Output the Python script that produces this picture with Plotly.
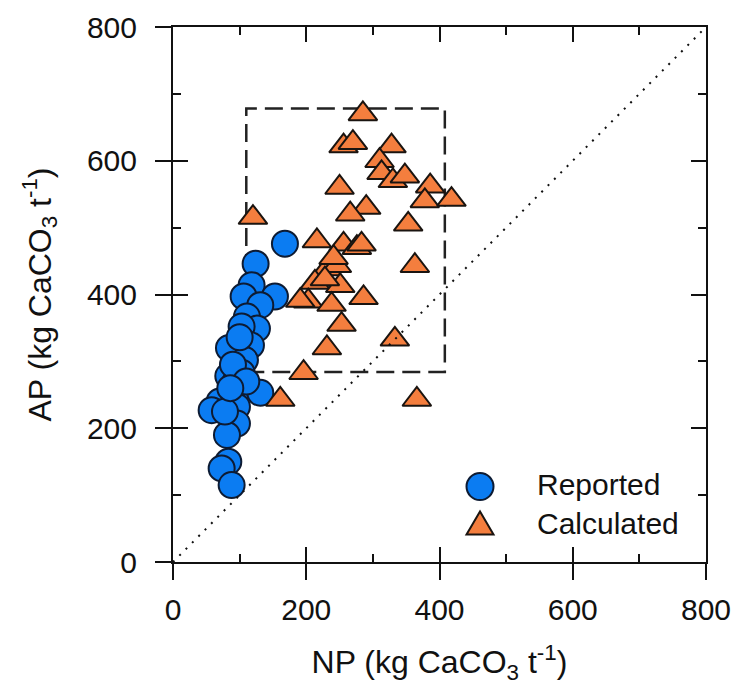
import plotly.graph_objects as go

# Reported NP / AP values (kg CaCO3 per tonne)
reported_np = [168, 124, 118, 106, 153, 131, 111, 126, 103, 84, 117, 108, 103, 83, 93,
               98, 131, 70, 58, 96, 96, 81, 83, 73, 88, 100, 90, 78, 110, 86]
reported_ap = [476, 446, 414, 397, 397, 384, 367, 349, 352, 320, 324, 302, 283, 278, 268,
               258, 253, 240, 227, 232, 207, 190, 150, 140, 115, 336, 295, 225, 270, 260]

# Calculated NP / AP values (kg CaCO3 per tonne)
calculated_np = [285, 256, 270, 328, 310, 313, 330, 348, 386, 378, 418, 250, 290, 266,
                 120, 353, 216, 256, 276, 283, 363, 231, 246, 213, 251, 228, 203, 238,
                 286, 253, 231, 333, 196, 161, 366, 191, 241]
calculated_ap = [670, 622, 627, 622, 600, 582, 570, 577, 562, 540, 542, 560, 530, 520,
                 515, 505, 480, 475, 470, 475, 443, 438, 443, 418, 413, 423, 390, 385,
                 395, 355, 320, 333, 283, 243, 243, 391, 455]

# 1:1 reference line and the highlighted region
one_to_one = [0, 800]
box_np = [110, 408]
box_ap = [284, 678]

axis_range = [0, 800]
tick_vals = [0, 200, 400, 600, 800]

series_names = ["Reported", "Calculated"]
series_fill = ["#0b7cf2", "#f47e3e"]
series_edge = ["#0d1b33", "#1a1410"]

FONT = "Liberation Sans, Arial, sans-serif"
INK = "#111111"

fig = go.Figure()

fig.add_trace(go.Scatter(
    x=one_to_one, y=one_to_one, mode="lines",
    line=dict(color=INK, width=2, dash="2px,7px"),
    showlegend=False, hoverinfo="skip", xaxis="x2", yaxis="y2",
))

fig.add_trace(go.Scatter(
    x=reported_np, y=reported_ap, mode="markers", name=series_names[0],
    showlegend=False,
    marker=dict(symbol="circle", size=26, color=series_fill[0],
                line=dict(color=series_edge[0], width=2)),
))

fig.add_trace(go.Scatter(
    x=calculated_np, y=calculated_ap, mode="markers", name=series_names[1],
    showlegend=False,
    marker=dict(symbol="triangle-up", size=25, color=series_fill[1],
                line=dict(color=series_edge[1], width=2)),
))

fig.add_shape(
    type="rect", xref="x", yref="y",
    x0=box_np[0], x1=box_np[1], y0=box_ap[0], y1=box_ap[1],
    line=dict(color="#222222", width=2.5, dash="18px,8px"),
    fillcolor="rgba(0,0,0,0)", layer="below",
)

# Legend keys, drawn at a fixed pixel size inside the lower-right corner
key_x = 0.576
key_y = [0.141, 0.073]
label_x = 0.679
label_y = [0.145, 0.072]

fig.add_shape(
    type="circle", xref="paper", yref="paper",
    xsizemode="pixel", ysizemode="pixel", xanchor=key_x, yanchor=key_y[0],
    x0=-13.5, x1=13.5, y0=-13.5, y1=13.5,
    fillcolor=series_fill[0], line=dict(color=series_edge[0], width=2),
)
fig.add_shape(
    type="path", xref="paper", yref="paper",
    xsizemode="pixel", ysizemode="pixel", xanchor=key_x, yanchor=key_y[1],
    path="M-13.5,-11.5 L13.5,-11.5 L0,11.5 Z",
    fillcolor=series_fill[1], line=dict(color=series_edge[1], width=2),
)
for name, ly in zip(series_names, label_y):
    fig.add_annotation(
        text=name, xref="paper", yref="paper", x=label_x, y=ly,
        xanchor="left", yanchor="middle", showarrow=False,
        font=dict(family=FONT, size=30, color=INK),
    )

tick_font = dict(family=FONT, size=30, color=INK)
title_font = dict(family=FONT, size=32, color=INK)

common = dict(
    range=axis_range, tickvals=tick_vals, showgrid=False, zeroline=False,
    showline=True, linecolor=INK, linewidth=2, automargin=False,
)

fig.update_layout(
    width=735, height=691,
    margin=dict(l=173, r=29, t=27, b=129, autoexpand=False),
    paper_bgcolor="white", plot_bgcolor="white",
    font=dict(family=FONT, color=INK),
    showlegend=False,
    xaxis=dict(
        **common, mirror=True, ticks="outside", ticklen=16, tickwidth=2,
        tickcolor=INK, tickfont=tick_font, ticklabelstandoff=4,
        title=dict(text="NP (kg CaCO<sub>3</sub> t<sup>-1</sup>)", font=title_font, standoff=26),
    ),
    yaxis=dict(
        **common, mirror=True, ticks="outside", ticklen=16, tickwidth=2,
        tickcolor=INK, tickfont=tick_font, ticklabelstandoff=12,
        title=dict(text="AP (kg CaCO<sub>3</sub> t<sup>-1</sup>)", font=title_font, standoff=26),
    ),
    # inner ticks on all four sides
    xaxis2=dict(
        **common, overlaying="x", matches="x", mirror="allticks", ticks="inside",
        ticklen=15, tickwidth=2, tickcolor=INK, showticklabels=False,
        minor=dict(dtick=100, ticks="inside", ticklen=8, tickwidth=2, tickcolor=INK),
    ),
    yaxis2=dict(
        **common, overlaying="y", matches="y", mirror="allticks", ticks="inside",
        ticklen=15, tickwidth=2, tickcolor=INK, showticklabels=False,
        minor=dict(dtick=100, ticks="inside", ticklen=8, tickwidth=2, tickcolor=INK),
    ),
)

fig.write_html("out.html")
